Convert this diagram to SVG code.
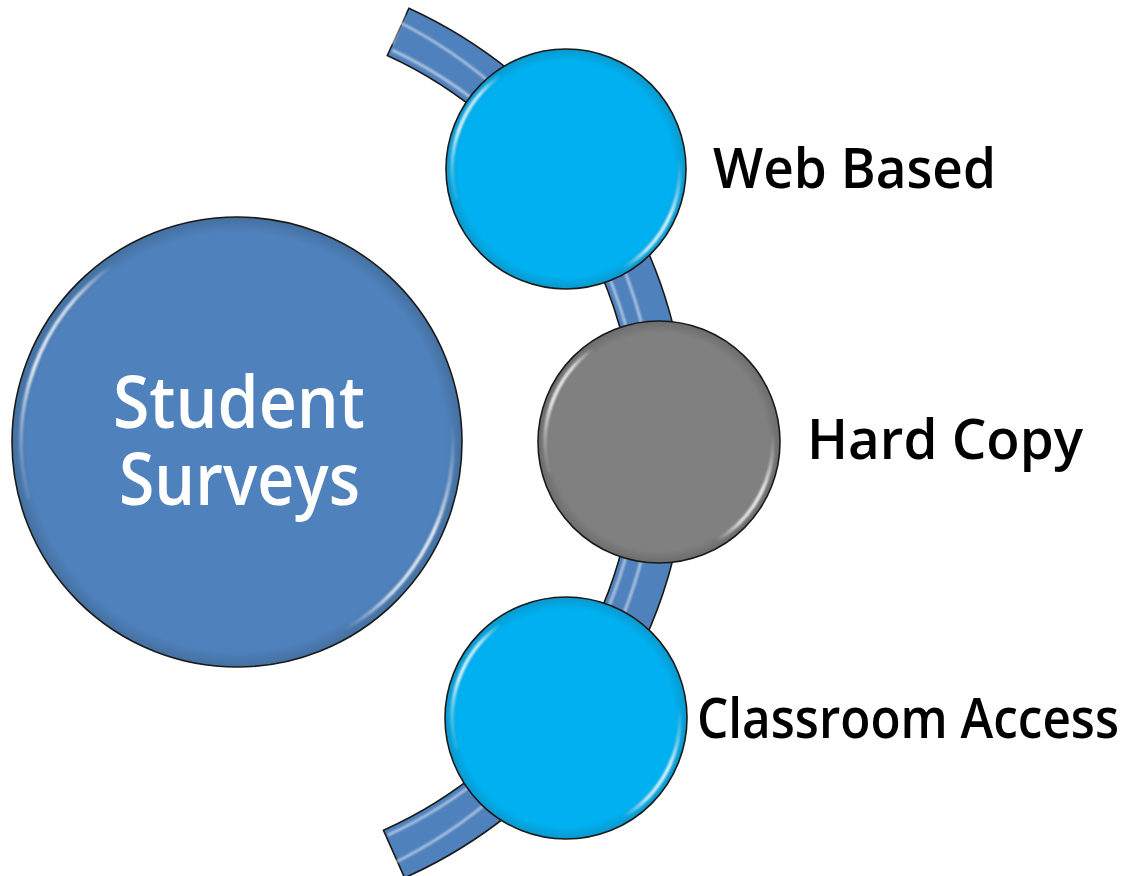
<svg xmlns="http://www.w3.org/2000/svg" width="1129" height="876" viewBox="0 0 1129 876">
<style>
.outline{stroke:#1a1a1a;stroke-width:1.6}
.lbl{font-family:"Open Sans","Lato","Liberation Sans",sans-serif;font-weight:600;font-size:56px;fill:#000}
.inner{font-family:"Open Sans","Lato","Liberation Sans",sans-serif;font-weight:600;font-size:72px;fill:#fff}
.hl{fill:none;stroke-width:3.5;stroke-linecap:round;filter:url(#soft)}
.bandhl{fill:none;stroke:#fff;stroke-width:2.5;opacity:0.6;filter:url(#soft)}
</style>
<defs>
<filter id="soft" x="-20%" y="-20%" width="140%" height="140%"><feGaussianBlur stdDeviation="0.9"/></filter>
<radialGradient id="gBlue"><stop offset="0" stop-color="#4F81BD"/><stop offset="0.93" stop-color="#4F81BD"/><stop offset="1" stop-color="#44709f"/></radialGradient>
<radialGradient id="gCyan"><stop offset="0" stop-color="#00B0F0"/><stop offset="0.9" stop-color="#00B0F0"/><stop offset="1" stop-color="#0a98cc"/></radialGradient>
<radialGradient id="gGray"><stop offset="0" stop-color="#808080"/><stop offset="0.9" stop-color="#808080"/><stop offset="1" stop-color="#6c6c6c"/></radialGradient>
<linearGradient id="hlL" x1="0" y1="1" x2="1" y2="0"><stop offset="0" stop-color="#fff" stop-opacity="0"/><stop offset="0.35" stop-color="#fff" stop-opacity="0.9"/><stop offset="0.7" stop-color="#fff" stop-opacity="0.8"/><stop offset="1" stop-color="#fff" stop-opacity="0"/></linearGradient>
<linearGradient id="hlR" x1="1" y1="0" x2="0" y2="1"><stop offset="0" stop-color="#fff" stop-opacity="0"/><stop offset="0.35" stop-color="#fff" stop-opacity="0.9"/><stop offset="0.7" stop-color="#fff" stop-opacity="0.8"/><stop offset="1" stop-color="#fff" stop-opacity="0"/></linearGradient>
<g id="hlSmall">
<path class="hl" stroke="url(#hlL)" d="M -110.1 29.5 A 114 114 0 0 1 -65.4 -93.4"/>
<path class="hl" stroke="url(#hlR)" d="M 113.6 -9.9 A 114 114 0 0 1 57 98.7"/>
</g>
</defs>

<g id="node-student-surveys">
<circle cx="237" cy="442" r="225" fill="url(#gBlue)" class="outline"/>
<path class="hl" stroke="url(#hlL)" d="M -208.6 55.9 A 216 216 0 0 1 -123.9 -176.9" transform="translate(237 442)"/>
<path class="hl" stroke="url(#hlR)" d="M 215.2 -18.8 A 216 216 0 0 1 108 187.1" transform="translate(237 442)"/>
<text class="inner" x="113" y="428" textLength="252" lengthAdjust="spacingAndGlyphs">Student</text>
<text class="inner" x="119" y="505" textLength="241" lengthAdjust="spacingAndGlyphs">Surveys</text>
</g>

<g id="connectors">
<path d="M 408.9 8.2 A 477 477 0 0 1 404.6 877.8 L 383.5 830.3 A 425 425 0 0 0 387.3 55.5 Z" fill="#4F81BD" class="outline"/>
<path class="bandhl" d="M 395 20 A 470 470 0 0 1 392 864"/>
<path class="bandhl" d="M 392 50 A 432 432 0 0 1 388 835"/>
<path d="M 404 14 L 392 44" stroke="#fff" stroke-width="2.5" opacity="0.7" filter="url(#soft)"/>
</g>

<g id="node-web-based">
<circle cx="566" cy="169" r="120" fill="url(#gCyan)" class="outline"/>
<use href="#hlSmall" transform="translate(566 169)"/>
<text class="lbl" x="713" y="188" textLength="283" lengthAdjust="spacingAndGlyphs">Web Based</text>
</g>

<g id="node-hard-copy">
<circle cx="659" cy="442" r="121" fill="url(#gGray)" class="outline"/>
<use href="#hlSmall" transform="translate(659 442)"/>
<text class="lbl" x="807" y="459" textLength="276" lengthAdjust="spacingAndGlyphs">Hard Copy</text>
</g>

<g id="node-classroom-access">
<circle cx="566" cy="718" r="121" fill="url(#gCyan)" class="outline"/>
<use href="#hlSmall" transform="translate(566 718)"/>
<text class="lbl" x="697" y="738" textLength="422" lengthAdjust="spacingAndGlyphs">Classroom Access</text>
</g>
</svg>
